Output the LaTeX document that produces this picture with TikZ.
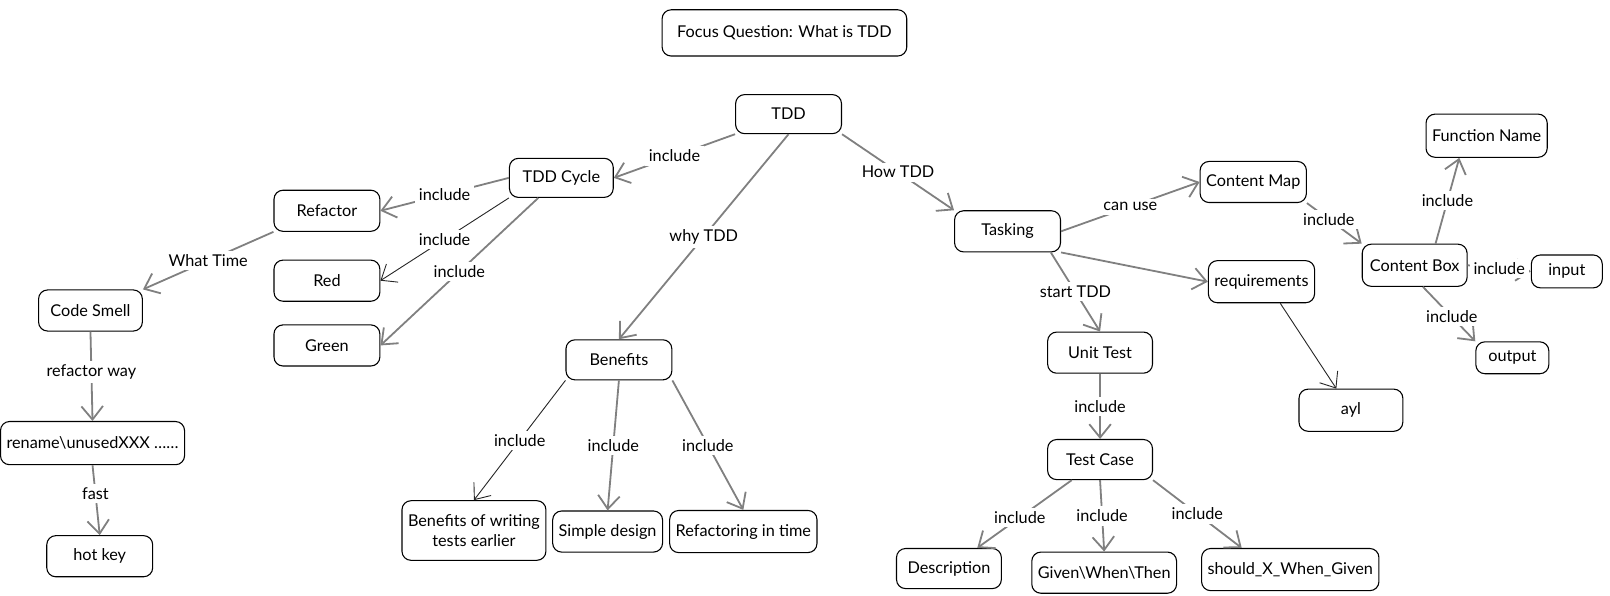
\documentclass[tikz,border=0pt]{standalone}
\usepackage{fontspec}
\setmainfont{Lato}
\usetikzlibrary{positioning, arrows.meta}

\begin{document}
\begin{tikzpicture}[x=0.02cm, y=-0.02cm, font=\fontsize{9}{11}\selectfont,
    main/.style = {draw, rounded corners=5pt, minimum width=2.06cm, minimum height=0.8cm, line width=0.6pt},
    link/.style = {draw=black!50, line width=1pt, -{Straight Barb[length=2.6mm, width=4.2mm]}},
    thin link/.style = {draw=black!85, line width=0.5pt, -{Straight Barb[length=2.6mm, width=4.2mm]}},
    lbl/.style = {fill=white, inner sep=2pt, text=black}]
    \useasboundingbox (0,0) rectangle (1566,579);
    % top
    \node[main, minimum width=4.76cm, minimum height=0.9cm] (focus) at (763,32) {Focus Question: What is TDD};
    \node[main, minimum height=0.76cm] (tdd) at (767,111) {TDD};
    % left branch
    \node[main, minimum width=2.02cm, minimum height=0.76cm] (cycle) at (546,173) {TDD Cycle};
    \node[main] (refactor) at (318,205) {Refactor};
    \node[main] (red) at (318,273) {Red};
    \node[main] (green) at (318,336) {Green};
    \node[main, minimum width=2.02cm] (smell) at (88,302) {Code Smell};
    \node[main, minimum width=3.34cm, minimum height=0.84cm] (rename) at (90,431) {rename\textbackslash unusedXXX \dots\dots};
    \node[main] (hotkey) at (97,541) {hot key};
    % middle branch
    \node[main, minimum height=0.78cm] (benefits) at (602,350) {Benefits};
    \node[main, align=center, minimum width=2.76cm, minimum height=1.16cm] (early) at (461,516) {Benefits of writing\\tests earlier};
    \node[main] (simple) at (591,517) {Simple design};
    \node[main, minimum width=2.86cm, minimum height=0.82cm] (intime) at (723,517) {Refactoring in time};
    % right branch
    \node[main] (tasking) at (980,225) {Tasking};
    \node[main, minimum width=2.04cm] (cmap) at (1219,177) {Content Map};
    \node[main, minimum width=2.04cm, minimum height=0.82cm] (req) at (1227,274) {requirements};
    \node[main, minimum width=2.02cm, minimum height=0.82cm] (ayl) at (1314,399) {ayl};
    \node[main, minimum width=2.04cm] (unit) at (1070,343) {Unit Test};
    \node[main, minimum width=2.04cm, minimum height=0.78cm] (case) at (1070,447) {Test Case};
    \node[main, minimum width=2.04cm, minimum height=0.78cm] (desc) at (923,553) {Description};
    \node[main, minimum width=2.6cm] (gwt) at (1074,557) {Given\textbackslash When\textbackslash Then};
    \node[main, minimum width=3.18cm, minimum height=0.82cm] (should) at (1255,554) {should\_X\_When\_Given};
    \node[main, minimum width=2.24cm, minimum height=0.84cm] (fname) at (1446,132) {Function Name};
    \node[main, minimum width=2.04cm, minimum height=0.82cm] (cbox) at (1376,258) {Content Box};
    \node[main, minimum width=1.38cm, minimum height=0.64cm] (input) at (1524,264) {input};
    \node[main, minimum width=1.42cm, minimum height=0.62cm] (output) at (1471,348) {output};
    % connectors
    \draw[link] (tdd.south west) -- node[lbl] {include} (cycle.east);
    \draw[link] (tdd.south) -- node[lbl] {why TDD} (benefits.north);
    \draw[link] (tdd.south east) -- node[lbl] {How TDD} (tasking.north west);
    \draw[link] (cycle.west) -- node[lbl] {include} (refactor.east);
    \draw[thin link] (cycle.south west) -- node[lbl] {include} (red.east);
    \draw[link] (cycle.221) -- node[lbl] {include} (green.east);
    \draw[link] (refactor.south west) -- node[lbl] {What Time} (smell.north east);
    \draw[link] (smell.south) -- node[lbl, pos=0.45] {refactor way} (rename.north);
    \draw[link] (rename.south) -- node[lbl, pos=0.4] {fast} (hotkey.north);
    \draw[thin link] (benefits.south west) -- node[lbl] {include} (early.north);
    \draw[link] (benefits.south) -- node[lbl] {include} (simple.north);
    \draw[link] (benefits.south east) -- node[lbl] {include} (intime.north);
    \draw[link] (tasking.east) -- node[lbl] {can use} (cmap.west);
    \draw[link] (tasking.south east) -- (req.west);
    \draw[link] (tasking.-26) -- node[lbl] {start TDD} (unit.north);
    \draw[thin link] (req.-49) -- (ayl.124);
    \draw[link] (cmap.south east) -- node[lbl, pos=0.4] {include} (cbox.north west);
    \draw[link] (cbox.46) -- node[lbl] {include} (fname.219);
    \draw[link] (cbox.east) -- node[lbl] {include} (input.west);
    \draw[link] (cbox.-69) -- node[lbl, pos=0.55] {include} (output.north west);
    \draw[link] (unit.south) -- node[lbl] {include} (case.north);
    \draw[link] (case.216) -- node[lbl, pos=0.55] {include} (desc.36);
    \draw[link] (case.south) -- node[lbl] {include} (gwt.north);
    \draw[link] (case.south east) -- node[lbl] {include} (should.156);
\end{tikzpicture}
\end{document}
